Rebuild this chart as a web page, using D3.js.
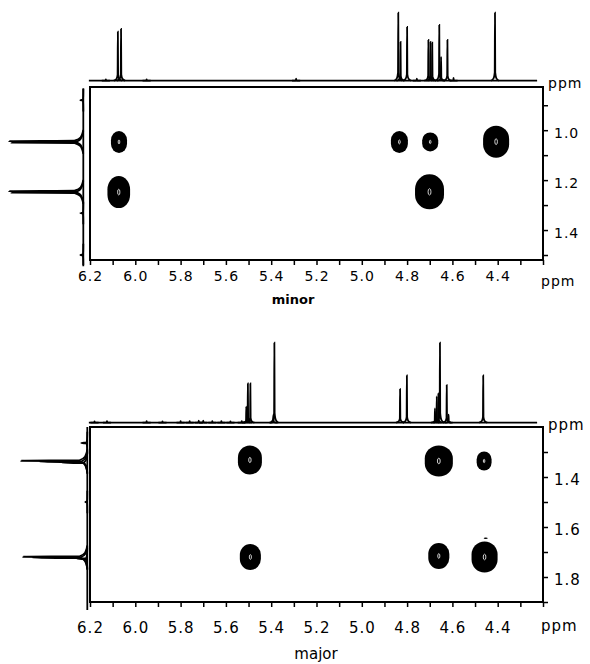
<!DOCTYPE html>
<html>
<head>
<meta charset="utf-8">
<script src="https://cdn.jsdelivr.net/npm/d3@7"></script>
<style>
  body { margin: 0; background: #fff; }
  text { font-family: "DejaVu Sans", sans-serif; fill: #000; }
</style>
</head>
<body>
<div id="chart"></div>
<script>
// ---- data (ppm, relative intensity 0-100) ----
var f2_window = [6.205, 4.226];
var x_ticks = [6.2, 6.1, 6.0, 5.9, 5.8, 5.7, 5.6, 5.5, 5.4, 5.3, 5.2, 5.1, 5.0, 4.9, 4.8, 4.7, 4.6, 4.5, 4.4, 4.3, 4.2];
var x_labels = ["6.2", "6.0", "5.8", "5.6", "5.4", "5.2", "5.0", "4.8", "4.6", "4.4"];

// minor isomer
var minor_f2 = [[6.130, 2], [6.077, 72], [6.063, 76], [5.950, 2], [5.290, 3],
                [4.839, 100], [4.829, 57], [4.800, 79], [4.757, 3],
                [4.706, 60], [4.697, 57], [4.689, 56], [4.658, 82], [4.650, 35],
                [4.622, 60], [4.595, 4], [4.412, 100]];
var minor_f1 = [[0.880, 4], [1.044, 100], [1.050, 97], [1.244, 100], [1.250, 97],
                [1.332, 4], [1.500, 4]];
var minor_f1_window = [0.832, 1.54];
var minor_y_domain = [0.827, 1.52];
var minor_y_ticks = [0.9, 1.0, 1.1, 1.2, 1.3, 1.4, 1.5];
var minor_y_labels = ["1.0", "1.2", "1.4"];
// cross peaks: f2 ppm, f1 ppm, width f2, width f1
var minor_cross = [[6.072, 1.047, 0.071, 0.088], [6.073, 1.248, 0.100, 0.128],
                   [4.834, 1.047, 0.075, 0.088], [4.698, 1.047, 0.071, 0.076],
                   [4.407, 1.046, 0.115, 0.128], [4.701, 1.247, 0.128, 0.140]];

// major isomer
var major_f2 = [[6.180, 1.5], [6.125, 2], [5.950, 2], [5.880, 1.5], [5.800, 2], [5.760, 2],
                [5.720, 2.5], [5.700, 2.5], [5.660, 2], [5.620, 2], [5.580, 1.5], [5.530, 2],
                [5.510, 20], [5.503, 49], [5.492, 49], [5.390, 10], [5.386, 100],
                [4.831, 42], [4.801, 59],
                [4.677, 18], [4.669, 33], [4.662, 37], [4.655, 100], [4.625, 47], [4.617, 10],
                [4.464, 59]];
var major_f1 = [[1.264, 9], [1.335, 100], [1.339, 72], [1.343, 38], [1.500, 3],
                [1.719, 97], [1.723, 83], [1.727, 15]];
var major_f1_window = [1.2, 1.932];
var major_y_domain = [1.2, 1.9];
var major_y_ticks = [1.3, 1.4, 1.5, 1.6, 1.7, 1.8, 1.9];
var major_y_labels = ["1.4", "1.6", "1.8"];
var major_cross = [[5.494, 1.332, 0.106, 0.116], [5.492, 1.720, 0.093, 0.104],
                   [4.660, 1.336, 0.124, 0.124], [4.460, 1.336, 0.066, 0.076],
                   [4.660, 1.716, 0.093, 0.104], [4.458, 1.720, 0.115, 0.124],
                   [4.453, 1.645, 0.018, 0.006]];

var W = 590, H = 664;
var svg = d3.select("#chart").append("svg")
            .attr("width", W).attr("height", H);

function spike(p, h, fw, d) {
  // one peak: foot -> apex -> foot, ordered by descending ppm
  return [[p + fw, 0], [p + fw * 0.35, h * 0.035], [p + d, h * 0.12], [p, h],
          [p - d, h * 0.12], [p - fw * 0.35, h * 0.035], [p - fw, 0]];
}

function draw_panel(o) {
  var g = svg.append("g");
  var x = d3.scaleLinear().domain([6.2, 4.2]).range([o.left, o.right]);
  var y = d3.scaleLinear().domain(o.ydomain).range([o.top, o.bottom]);

  // top (F2) projection
  var ih = d3.scaleLinear().domain([0, 100]).range([o.f2base, o.f2base - o.f2len]);
  g.append("line")
    .attr("x1", x(f2_window[0])).attr("x2", x(f2_window[1]))
    .attr("y1", ih(0)).attr("y2", ih(0))
    .attr("stroke", "#000").attr("stroke-width", 1.8);
  var lineTop = d3.line().x(d => x(d[0])).y(d => ih(d[1])).curve(d3.curveMonotoneX);
  g.selectAll(".f2").data(o.f2).enter().append("path")
    .attr("d", d => lineTop(spike(d[0], d[1], 0.018, 0.0012)))
    .attr("fill", "none").attr("stroke", "#000").attr("stroke-width", 1.8);

  // left (F1) projection
  var iw = d3.scaleLinear().domain([0, 100]).range([o.f1base, o.f1base - o.f1len]);
  g.append("line")
    .attr("x1", iw(0)).attr("x2", iw(0))
    .attr("y1", y(o.f1win[0])).attr("y2", y(o.f1win[1]))
    .attr("stroke", "#000").attr("stroke-width", 1.8);
  var lineLeft = d3.line().x(d => iw(d[1])).y(d => y(d[0])).curve(d3.curveMonotoneY);
  g.selectAll(".f1").data(o.f1).enter().append("path")
    .attr("d", d => lineLeft(spike(d[0], d[1], 0.045, 0.002).reverse()))
    .attr("fill", "none").attr("stroke", "#000").attr("stroke-width", 1.8);

  // cross peaks (contour blobs)
  g.selectAll(".cp").data(o.cross).enter().append("rect")
    .attr("x", d => x(d[0] + d[2] / 2)).attr("y", d => y(d[1] - d[3] / 2))
    .attr("width", d => Math.abs(x(d[0] - d[2] / 2) - x(d[0] + d[2] / 2)))
    .attr("height", d => Math.abs(y(d[1] + d[3] / 2) - y(d[1] - d[3] / 2)))
    .attr("rx", d => Math.abs(x(d[0] - d[2] / 2) - x(d[0] + d[2] / 2)) * 0.5)
    .attr("ry", d => Math.abs(y(d[1] + d[3] / 2) - y(d[1] - d[3] / 2)) * 0.42)
    .attr("fill", "#000");
  g.selectAll(".cpi").data(o.cross.filter(d => d[2] > 0.05)).enter().append("ellipse")
    .attr("cx", d => x(d[0])).attr("cy", d => y(d[1]))
    .attr("rx", d => Math.abs(x(d[0] + d[2] / 2) - x(d[0])) * 0.1)
    .attr("ry", d => Math.abs(y(d[1] + d[3] / 2) - y(d[1])) * 0.18)
    .attr("fill", "none").attr("stroke", "#fff").attr("stroke-width", 0.8);

  // frame
  g.append("rect")
    .attr("x", o.left).attr("y", o.top)
    .attr("width", o.right - o.left).attr("height", o.bottom - o.top)
    .attr("fill", "none").attr("stroke", "#000").attr("stroke-width", 2);

  // axes
  var xa = g.append("g")
    .attr("transform", "translate(0," + o.bottom + ")")
    .call(d3.axisBottom(x).tickValues(x_ticks).tickSize(5).tickPadding(6)
          .tickFormat(d => x_labels.indexOf(d.toFixed(1)) >= 0 ? d.toFixed(1) : ""));
  xa.select(".domain").remove();
  xa.selectAll("line").attr("stroke-width", 1.5);
  xa.selectAll("text").attr("font-size", o.fs).attr("letter-spacing", "1px")
    .attr("font-family", "DejaVu Sans").attr("dy", o.xdy);

  var ya = g.append("g")
    .attr("transform", "translate(" + o.right + ",0)")
    .call(d3.axisRight(y).tickValues(o.yticks).tickSize(5).tickPadding(6)
          .tickFormat(d => o.ylabels.indexOf(d.toFixed(1)) >= 0 ? d.toFixed(1) : ""));
  ya.select(".domain").remove();
  ya.selectAll("line").attr("stroke-width", 1.5);
  ya.selectAll("text").attr("font-size", o.fs).attr("letter-spacing", "1px")
    .attr("font-family", "DejaVu Sans").attr("dy", "0.5em");

  g.append("text").attr("x", o.right - 2).attr("y", o.ppmXy)
    .attr("font-size", o.fs).attr("letter-spacing", "1px").text("ppm");
  g.append("text").attr("x", o.right + 5).attr("y", o.f2base + 7)
    .attr("font-size", o.fs).attr("letter-spacing", "1px").text("ppm");

  g.append("text").attr("x", o.nameX).attr("y", o.nameY)
    .attr("text-anchor", "middle").attr("font-size", o.nameFs)
    .attr("font-weight", o.nameW).text(o.name);
}

draw_panel({left: 90, right: 543, top: 87, bottom: 260, ydomain: minor_y_domain,
            f2: minor_f2, f2base: 80.7, f2len: 68,
            f1: minor_f1, f1base: 83.3, f1len: 74, f1win: minor_f1_window,
            cross: minor_cross, yticks: minor_y_ticks, ylabels: minor_y_labels,
            fs: 14, xdy: "0.71em", ppmXy: 286,
            name: "minor", nameX: 293, nameY: 304, nameFs: 13, nameW: "bold"});

draw_panel({left: 90, right: 543, top: 427, bottom: 602, ydomain: major_y_domain,
            f2: major_f2, f2base: 422.7, f2len: 80,
            f1: major_f1, f1base: 87.3, f1len: 66, f1win: major_f1_window,
            cross: major_cross, yticks: major_y_ticks, ylabels: major_y_labels,
            fs: 15, xdy: "1.3em", ppmXy: 631,
            name: "major", nameX: 316, nameY: 659, nameFs: 15, nameW: "normal"});
</script>
</body>
</html>
